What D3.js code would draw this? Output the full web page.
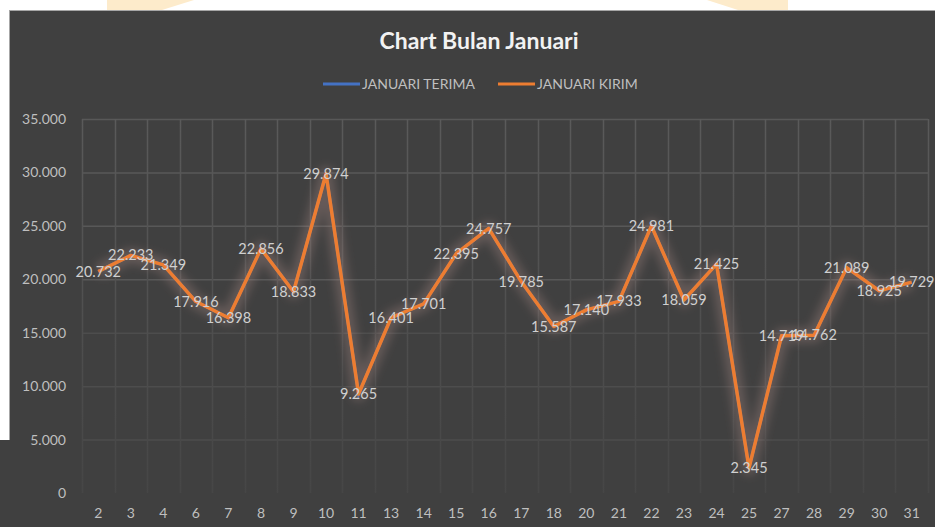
<!DOCTYPE html>
<html>
<head>
<meta charset="utf-8">
<script src="https://cdn.jsdelivr.net/npm/d3@7"></script>
<style>
  body { margin: 0; background: #ffffff; }
  svg { display: block; }
</style>
</head>
<body>
<div id="chart"></div>
<script>
// data
var days = ["2", "3", "4", "6", "7", "8", "9", "10", "11", "13", "14", "15", "16",
    "17", "18", "20", "21", "22", "23", "24", "25", "27", "28", "29", "30", "31"];
var kirim = [20732, 22233, 21349, 17916, 16398, 22856, 18833, 29874, 9265, 16401, 17701, 22395, 24757,
    19785, 15587, 17140, 17933, 24981, 18059, 21425, 2345, 14719, 14762, 21089, 18925, 19729];
// blue series sits under the orange one
var terima = [20732, 22233, 21349, 17916, 16398, 22856, 18833, 29874, 9265, 16401, 17701, 22395, 24757,
    19785, 15587, 17140, 17933, 24981, 18059, 21425, 2345, 14719, 14762, 21089, 18925, 19729];
var yTicks = [0, 5000, 10000, 15000, 20000, 25000, 30000, 35000];
var seriesNames = ["JANUARI TERIMA", "JANUARI KIRIM"];
var seriesColors = ["#4472C4", "#ED7D31"];

var width = 935;
var height = 527;
var font = "Lato, 'Open Sans', sans-serif";

var locale = d3.formatLocale({ decimal: ",", thousands: ".", grouping: [3], currency: ["", ""] });
var fmt = locale.format(",d");

var svg = d3.select("#chart")
    .append("svg")
    .attr("width", width)
    .attr("height", height);

var defs = svg.append("defs");
var glow = defs.append("filter")
    .attr("id", "glow")
    .attr("x", "-10%").attr("y", "-10%")
    .attr("width", "120%").attr("height", "120%");
glow.append("feGaussianBlur").attr("stdDeviation", 5);

var grad = defs.append("linearGradient")
    .attr("id", "vgrid")
    .attr("gradientUnits", "userSpaceOnUse")
    .attr("x1", 0).attr("x2", 0).attr("y1", 119).attr("y2", 493);
grad.append("stop").attr("offset", "0%").attr("stop-color", "#5a5a5a");
grad.append("stop").attr("offset", "100%").attr("stop-color", "#464646");

// pale shapes peeking above the panel
svg.append("polygon")
    .attr("points", "107,0 194,0 162,10 107,10")
    .attr("fill", "#fdebcb");
svg.append("polygon")
    .attr("points", "707,0 788,0 788,10 738,10")
    .attr("fill", "#fdebcb");

// panel
svg.append("rect")
    .attr("x", 9.5).attr("y", 10.5)
    .attr("width", width).attr("height", height)
    .attr("fill", "#404040")
    .attr("stroke", "#a6a6a6")
    .attr("stroke-width", 1);
svg.append("rect")
    .attr("x", 0).attr("y", 440)
    .attr("width", 10).attr("height", height - 440)
    .attr("fill", "#404040");

var x = d3.scaleBand().domain(days).range([82, 928]);
var y = d3.scaleLinear().domain([0, 35000]).range([493, 119]);

// grid
svg.append("g")
    .selectAll("line")
    .data(yTicks.filter(d => d > 0))
    .enter()
    .append("line")
    .attr("x1", 82).attr("x2", 928)
    .attr("y1", d => y(d) + 0.5).attr("y2", d => y(d) + 0.5)
    .attr("stroke", d => d >= 20000 ? "#585858" : "#4d4d4d")
    .attr("stroke-width", 1.5);

var bounds = days.map(d => x(d)).concat([x.range()[1]]);
svg.append("g")
    .selectAll("line")
    .data(bounds)
    .enter()
    .append("line")
    .attr("x1", d => Math.round(d) + 0.5).attr("x2", d => Math.round(d) + 0.5)
    .attr("y1", 119).attr("y2", 493)
    .attr("stroke", "url(#vgrid)")
    .attr("stroke-width", 1.5);

// axes
var yAxis = svg.append("g")
    .attr("transform", "translate(82,0)")
    .call(d3.axisLeft(y).tickValues(yTicks).tickSize(0).tickPadding(16).tickFormat(fmt));
yAxis.select(".domain").remove();
yAxis.selectAll("text")
    .attr("fill", "#bfbfbf")
    .style("font-family", font)
    .style("font-size", "14px");

var xAxis = svg.append("g")
    .attr("transform", "translate(0,493)")
    .call(d3.axisBottom(x).tickSize(0).tickPadding(15));
xAxis.select(".domain").remove();
xAxis.selectAll("text")
    .attr("fill", "#bfbfbf")
    .style("font-family", font)
    .style("font-size", "14px");

// lines
var line = d3.line()
    .x((d, i) => x(days[i]) + x.bandwidth() / 2)
    .y(d => y(d));

svg.append("path")
    .datum(terima)
    .attr("d", line)
    .attr("fill", "none")
    .attr("stroke", seriesColors[0])
    .attr("stroke-width", 3);

svg.append("path")
    .datum(kirim)
    .attr("d", line)
    .attr("fill", "none")
    .attr("stroke", "#b8948e")
    .attr("stroke-opacity", 0.3)
    .attr("stroke-width", 14)
    .attr("stroke-linejoin", "round")
    .attr("filter", "url(#glow)");

svg.append("path")
    .datum(kirim)
    .attr("d", line)
    .attr("fill", "none")
    .attr("stroke", seriesColors[1])
    .attr("stroke-width", 3.5)
    .attr("stroke-linejoin", "round");

// data labels
svg.append("g")
    .selectAll("text")
    .data(kirim)
    .enter()
    .append("text")
    .attr("x", (d, i) => x(days[i]) + x.bandwidth() / 2)
    .attr("y", d => y(d))
    .attr("dy", "0.35em")
    .attr("text-anchor", "middle")
    .attr("fill", "#d0d0d0")
    .style("font-family", font)
    .style("font-size", "14.5px")
    .text(d => fmt(d));

// title
svg.append("text")
    .attr("x", 479)
    .attr("y", 49)
    .attr("text-anchor", "middle")
    .attr("fill", "#f2f2f2")
    .style("font-family", font)
    .style("font-size", "23px")
    .style("font-weight", "bold")
    .text("Chart Bulan Januari");

// legend
var legendX = [323, 498];
var legend = svg.append("g")
    .selectAll("g")
    .data(seriesNames)
    .enter()
    .append("g")
    .attr("transform", (d, i) => "translate(" + legendX[i] + ",84)");
legend.append("line")
    .attr("x1", 0).attr("x2", 37)
    .attr("stroke", (d, i) => seriesColors[i])
    .attr("stroke-width", 3);
legend.append("text")
    .attr("x", 39)
    .attr("dy", "0.35em")
    .attr("fill", "#bfbfbf")
    .style("font-family", font)
    .style("font-size", "14px")
    .text(d => d);
</script>
</body>
</html>
